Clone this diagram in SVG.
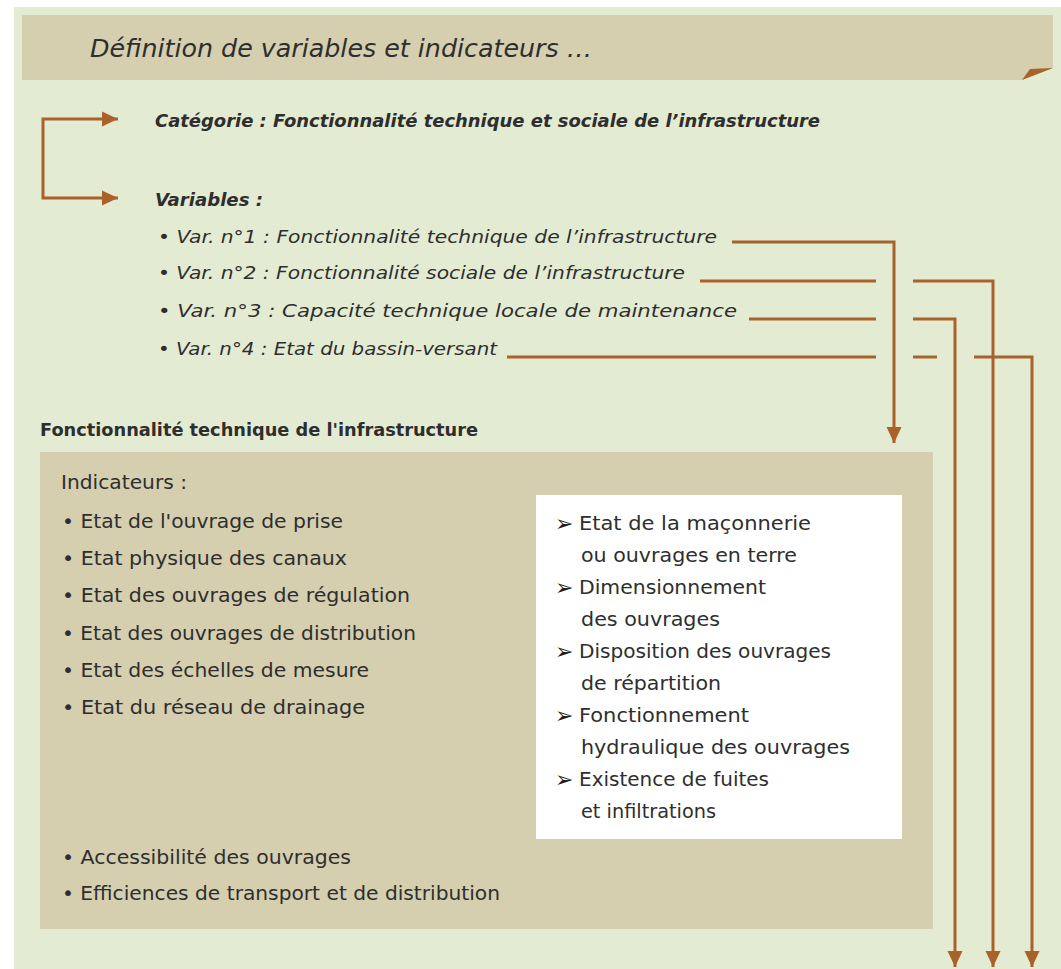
<svg xmlns="http://www.w3.org/2000/svg" width="1061" height="969" viewBox="0 0 1061 969">
<defs>
<marker id="ah" markerUnits="userSpaceOnUse" markerWidth="16" markerHeight="16" viewBox="0 0 16 16" refX="16" refY="8" orient="auto">
<path d="M0,0.5 L16,8 L0,15.5 z" fill="#a8622a"/>
</marker>
<style>
.t{font-family:"DejaVu Sans","Liberation Sans",sans-serif;fill:#2e2e2e;}
.b{font-size:19px;}
.v{font-size:18px;font-style:italic;}
.bi{font-size:18px;font-style:italic;font-weight:bold;}
.w{font-size:19px;}
.ar{font-family:"DejaVu Sans",sans-serif;font-size:22px;fill:#1e1e1e;}
.c{fill:none;stroke:#a8622a;stroke-width:3;}
</style>
</defs>
<rect x="0" y="0" width="1061" height="969" fill="#ffffff"/>
<rect x="14" y="7" width="1047" height="962" fill="#e3ebd3"/>
<g id="header">
<polygon points="22,15 1053,15 1053,68 1022,80 22,80" fill="#d5cfb0"/>
<polygon points="1022,80 1030,69 1053,68" fill="#a8622a"/>
<text class="t" x="90" y="57" font-size="24" font-style="italic" fill="#3a372f" textLength="502" lengthAdjust="spacingAndGlyphs">Définition de variables et indicateurs …</text>
</g>
<g id="categorie">
<text class="t bi" x="155" y="127" textLength="665" lengthAdjust="spacingAndGlyphs">Catégorie : Fonctionnalité technique et sociale de l’infrastructure</text>
</g>
<g id="variables">
<text class="t bi" x="155" y="206" textLength="108" lengthAdjust="spacingAndGlyphs">Variables :</text>
<text class="t v" x="158" y="243" textLength="559" lengthAdjust="spacingAndGlyphs">• Var. n°1 : Fonctionnalité technique de l’infrastructure</text>
<text class="t v" x="158" y="279" textLength="527" lengthAdjust="spacingAndGlyphs">• Var. n°2 : Fonctionnalité sociale de l’infrastructure</text>
<text class="t v" x="158" y="317" textLength="579" lengthAdjust="spacingAndGlyphs">• Var. n°3 : Capacité technique locale de maintenance</text>
<text class="t v" x="158" y="355" textLength="339" lengthAdjust="spacingAndGlyphs">• Var. n°4 : Etat du bassin-versant</text>
</g>
<g id="section-title">
<text class="t" x="40" y="436" font-size="18" font-weight="bold" fill="#222" textLength="438" lengthAdjust="spacingAndGlyphs">Fonctionnalité technique de l'infrastructure</text>
</g>
<g id="indicateurs">
<rect x="40" y="452" width="893" height="477" fill="#d5cfb0"/>
<text class="t b" x="61" y="489" textLength="126" lengthAdjust="spacingAndGlyphs">Indicateurs :</text>
<text class="t b" x="62" y="528" textLength="281" lengthAdjust="spacingAndGlyphs">• Etat de l'ouvrage de prise</text>
<text class="t b" x="62" y="565" textLength="285" lengthAdjust="spacingAndGlyphs">• Etat physique des canaux</text>
<text class="t b" x="62" y="602" textLength="348" lengthAdjust="spacingAndGlyphs">• Etat des ouvrages de régulation</text>
<text class="t b" x="62" y="640" textLength="354" lengthAdjust="spacingAndGlyphs">• Etat des ouvrages de distribution</text>
<text class="t b" x="62" y="677" textLength="307" lengthAdjust="spacingAndGlyphs">• Etat des échelles de mesure</text>
<text class="t b" x="62" y="714" textLength="303" lengthAdjust="spacingAndGlyphs">• Etat du réseau de drainage</text>
<text class="t b" x="62" y="864" textLength="289" lengthAdjust="spacingAndGlyphs">• Accessibilité des ouvrages</text>
<text class="t b" x="62" y="900" textLength="438" lengthAdjust="spacingAndGlyphs">• Efficiences de transport et de distribution</text>
</g>
<g id="details">
<rect x="536" y="495" width="366" height="344" fill="#ffffff"/>
<text class="ar" x="555" y="531">➢</text>
<text class="t w" x="579" y="530" textLength="232" lengthAdjust="spacingAndGlyphs">Etat de la maçonnerie</text>
<text class="t w" x="581" y="562" textLength="216" lengthAdjust="spacingAndGlyphs">ou ouvrages en terre</text>
<text class="ar" x="555" y="595">➢</text>
<text class="t w" x="579" y="594" textLength="187" lengthAdjust="spacingAndGlyphs">Dimensionnement</text>
<text class="t w" x="581" y="626" textLength="139" lengthAdjust="spacingAndGlyphs">des ouvrages</text>
<text class="ar" x="555" y="659">➢</text>
<text class="t w" x="579" y="658" textLength="252" lengthAdjust="spacingAndGlyphs">Disposition des ouvrages</text>
<text class="t w" x="581" y="690" textLength="140" lengthAdjust="spacingAndGlyphs">de répartition</text>
<text class="ar" x="555" y="723">➢</text>
<text class="t w" x="579" y="722" textLength="170" lengthAdjust="spacingAndGlyphs">Fonctionnement</text>
<text class="t w" x="581" y="754" textLength="269" lengthAdjust="spacingAndGlyphs">hydraulique des ouvrages</text>
<text class="ar" x="555" y="787">➢</text>
<text class="t w" x="579" y="786" textLength="190" lengthAdjust="spacingAndGlyphs">Existence de fuites</text>
<text class="t w" x="581" y="818" textLength="135" lengthAdjust="spacingAndGlyphs">et infiltrations</text>
</g>
<g id="connectors">
<path class="c" d="M43,158 V119 H118" marker-end="url(#ah)"/>
<path class="c" d="M43,158 V198 H118" marker-end="url(#ah)"/>
<path class="c" d="M732,242 H894 V443" marker-end="url(#ah)"/>
<path class="c" d="M700,281 H876"/>
<path class="c" d="M913,281 H993 V967" marker-end="url(#ah)"/>
<path class="c" d="M749,319 H876"/>
<path class="c" d="M913,319 H955 V967" marker-end="url(#ah)"/>
<path class="c" d="M507,357 H876"/>
<path class="c" d="M913,357 H937"/>
<path class="c" d="M974,357 H1032 V967" marker-end="url(#ah)"/>
</g>
</svg>
